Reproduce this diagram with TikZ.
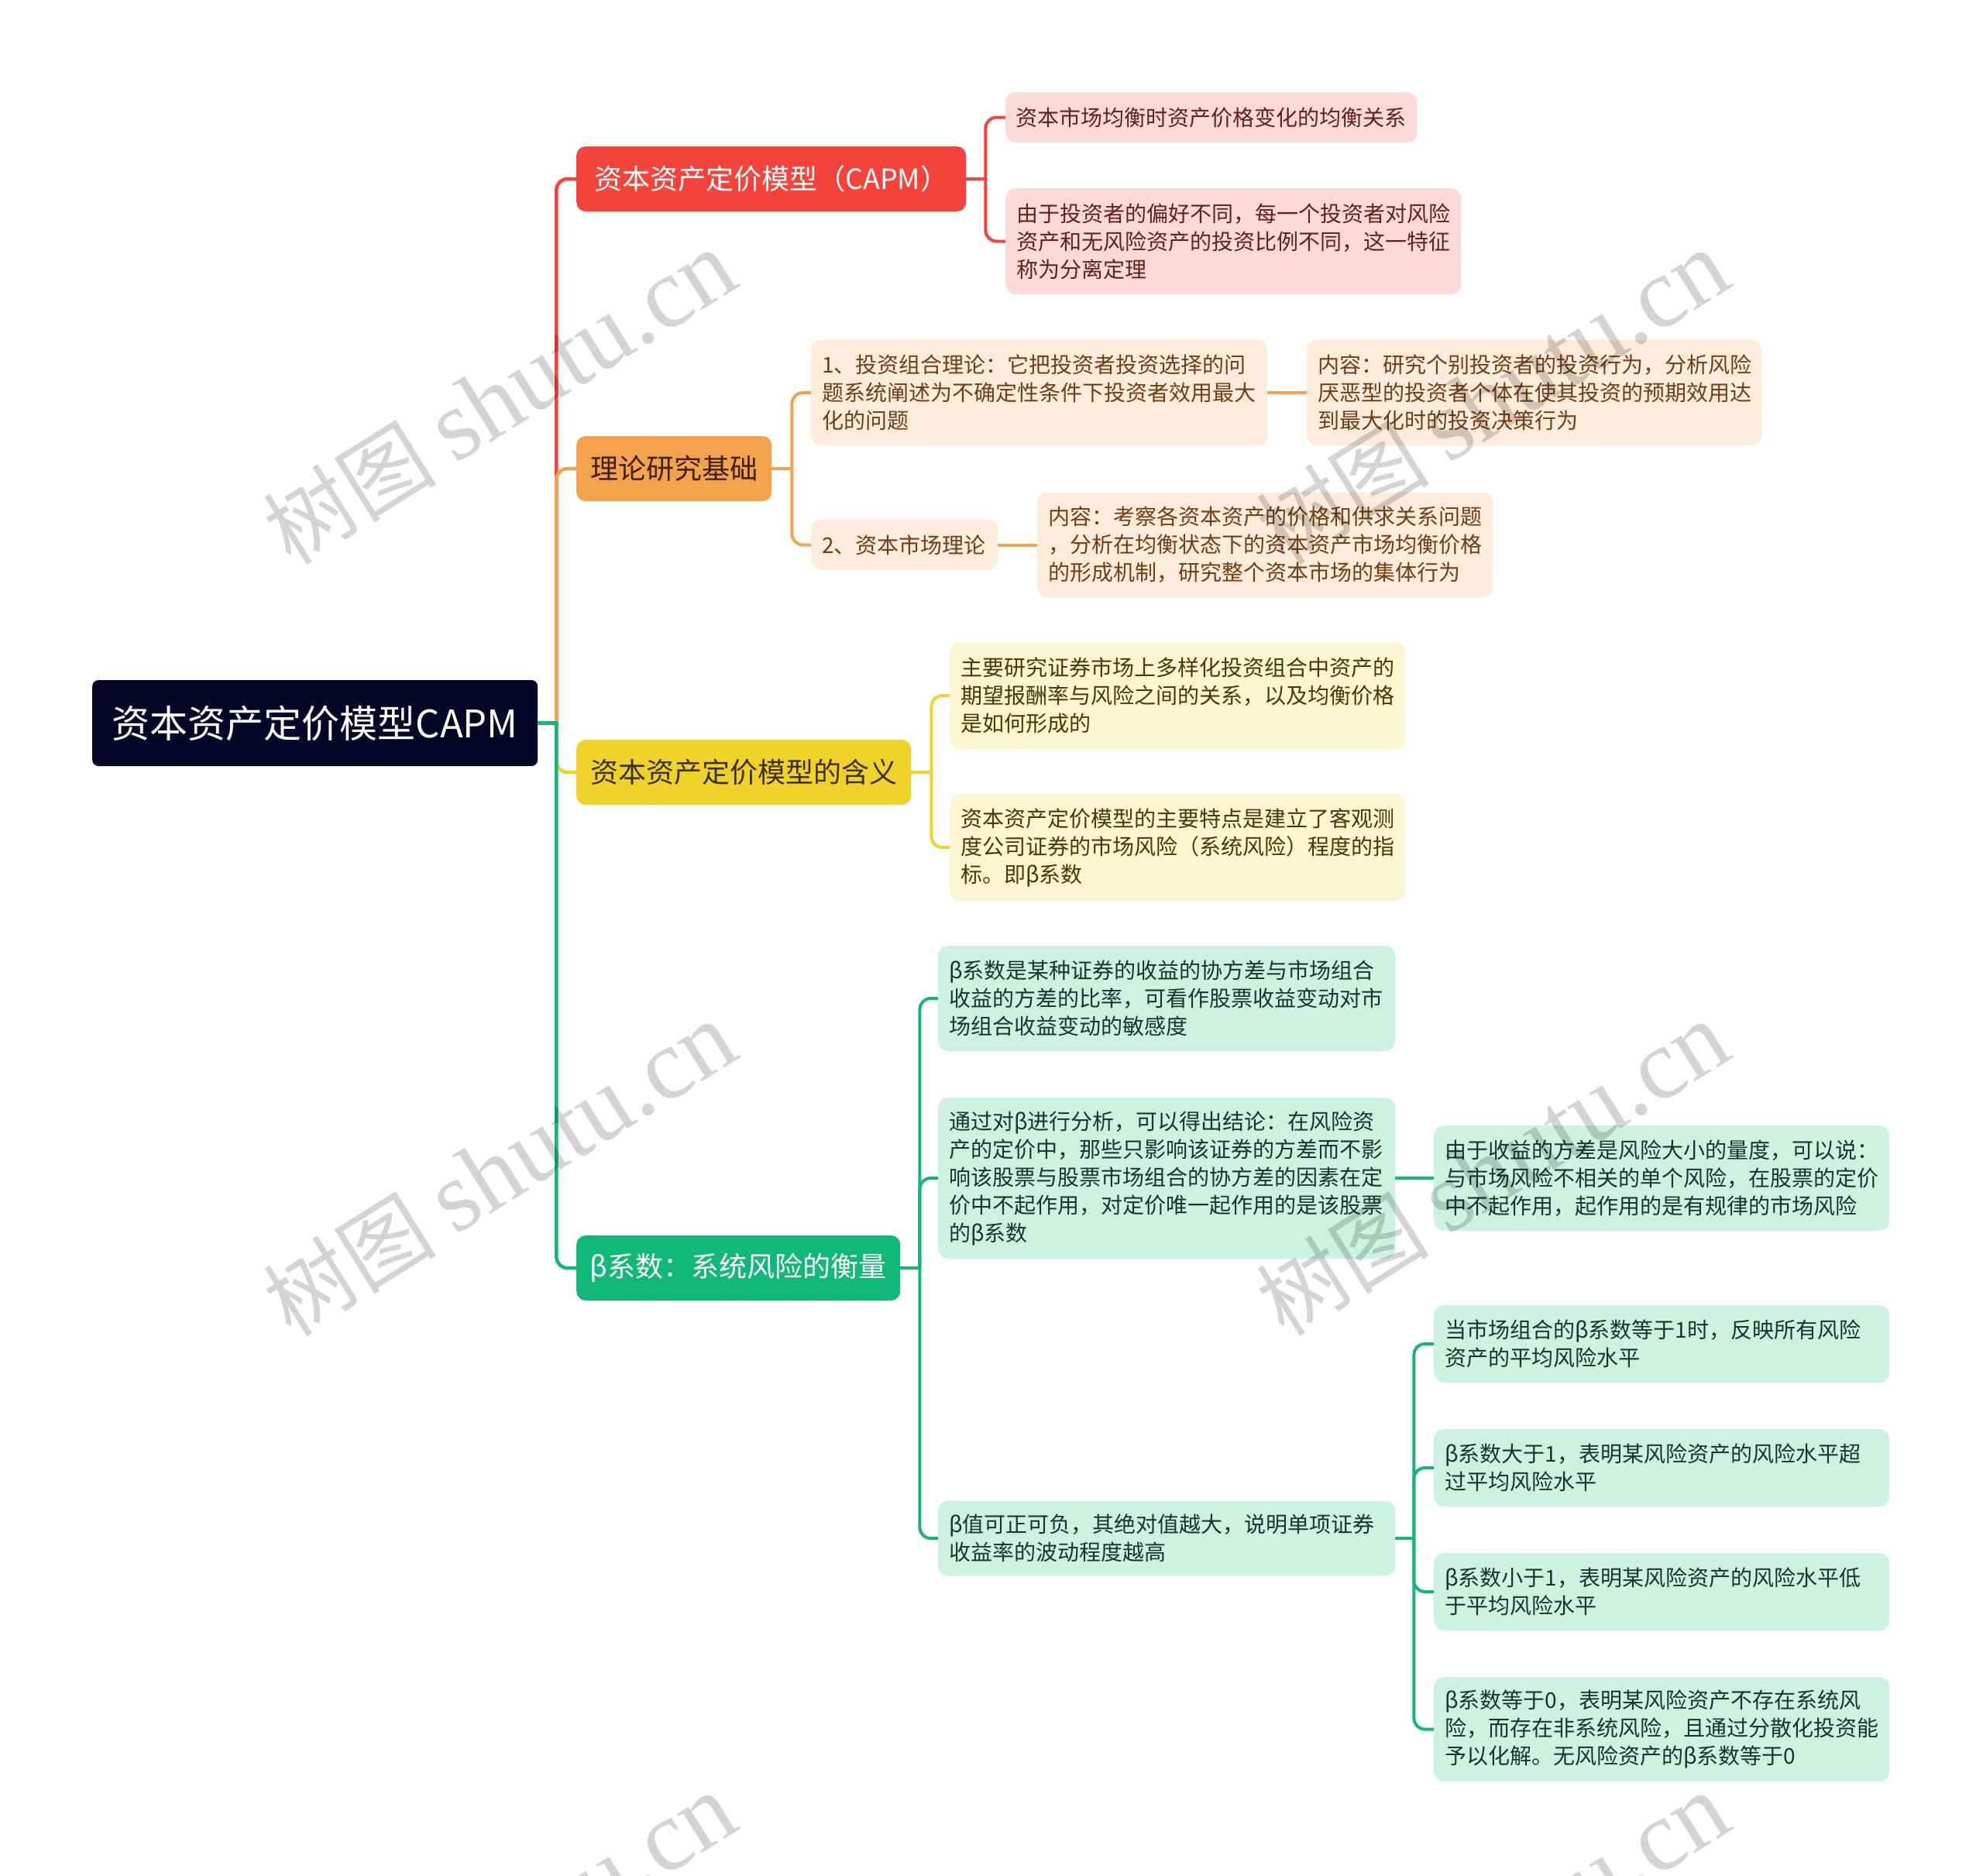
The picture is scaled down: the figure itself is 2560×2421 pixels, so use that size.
\documentclass[tikz,border=0pt]{standalone}
\usepackage{fontspec}
\setmainfont{Noto Sans CJK SC}
\newfontfamily\wmserif{Liberation Serif}
\definecolor{cR}{HTML}{F4433A}
\definecolor{cO}{HTML}{F4A24C}
\definecolor{cY}{HTML}{F0D22A}
\definecolor{cG}{HTML}{12B87A}
\definecolor{cRoot}{HTML}{060628}
\definecolor{lR}{HTML}{FCDAD8}
\definecolor{lO}{HTML}{FDEBDC}
\definecolor{lY}{HTML}{FCF5D2}
\definecolor{lG}{HTML}{CEF2E2}
\definecolor{tR}{HTML}{642016}
\definecolor{tO}{HTML}{703E12}
\definecolor{tY}{HTML}{433C00}
\definecolor{tG}{HTML}{14362B}
\definecolor{tOB}{HTML}{3C200A}
\definecolor{tYB}{HTML}{3A3000}
\begin{document}
\begin{tikzpicture}[x=1pt,y=-1pt,
  leaf/.style={rounded corners=13pt, inner xsep=14pt, inner ysep=0pt, align=left,
    font=\fontsize{28pt}{36pt}\selectfont, anchor=west},
  leafR/.style={leaf, fill=lR, text=tR},
  leafO/.style={leaf, fill=lO, text=tO},
  leafY/.style={leaf, fill=lY, text=tY},
  leafG/.style={leaf, fill=lG, text=tG},
  branch/.style={rounded corners=12pt, inner sep=0pt, anchor=west,
    font=\fontsize{36pt}{44pt}\selectfont, minimum height=84pt},
  conn/.style={line width=4.5pt, rounded corners=14pt},
  wm/.style={rotate=32, text=black, opacity=0.17, inner sep=0pt}
]
\useasboundingbox (0,0) rectangle (2560,2421);
\fill[white] (0,0) rectangle (2560,2421);

% root
\node[fill=cRoot, text=white, rounded corners=8pt, inner sep=0pt, anchor=west,
  minimum width=575pt, minimum height=111pt, font=\fontsize{49pt}{56pt}\selectfont]
  (root) at (119,933.5) {资本资产定价模型CAPM};

% branches
\node[branch, fill=cR, text=white, minimum width=503pt] (cap) at (744,231) {资本资产定价模型（CAPM）};
\node[branch, fill=cO, text=tOB, minimum width=252pt] (theo) at (744,605) {理论研究基础};
\node[branch, fill=cY, text=tYB, minimum width=432pt] (mean) at (744,997) {资本资产定价模型的含义};
\node[branch, fill=cG, text=white, minimum width=418pt] (beta) at (744,1637) {β系数：系统风险的衡量};

% red leaves
\node[leafR, text width=505pt, inner xsep=13pt, minimum height=65pt] (r1) at (1298,151.5) {资本市场均衡时资产价格变化的均衡关系};
\node[leafR, text width=560pt, minimum height=137pt] (r2) at (1298,311.5) {由于投资者的偏好不同，每一个投资者对风险\\资产和无风险资产的投资比例不同，这一特征\\称为分离定理};

% orange leaves
\node[leafO, text width=561pt, minimum height=136pt] (o1) at (1047,507) {1、投资组合理论：它把投资者投资选择的问\\题系统阐述为不确定性条件下投资者效用最大\\化的问题};
\node[leafO, text width=559pt, minimum height=136pt] (o1c) at (1687,507) {内容：研究个别投资者的投资行为，分析风险\\厌恶型的投资者个体在使其投资的预期效用达\\到最大化时的投资决策行为};
\node[leafO, text width=213pt, minimum height=65pt] (o2) at (1047,703.5) {2、资本市场理论};
\node[leafO, text width=560pt, minimum height=136pt] (o2c) at (1339,703.5) {内容：考察各资本资产的价格和供求关系问题\\，分析在均衡状态下的资本资产市场均衡价格\\的形成机制，研究整个资本市场的集体行为};

% yellow leaves
\node[leafY, text width=560pt, minimum height=138pt] (y1) at (1226,898) {主要研究证券市场上多样化投资组合中资产的\\期望报酬率与风险之间的关系，以及均衡价格\\是如何形成的};
\node[leafY, text width=560pt, minimum height=138pt] (y2) at (1226,1094) {资本资产定价模型的主要特点是建立了客观测\\度公司证券的市场风险（系统风险）程度的指\\标。即β系数};

% green leaves
\node[leafG, text width=562pt, minimum height=136pt] (g1) at (1211,1289) {β系数是某种证券的收益的协方差与市场组合\\收益的方差的比率，可看作股票收益变动对市\\场组合收益变动的敏感度};
\node[leafG, text width=562pt, minimum height=208pt] (g2) at (1211,1521) {通过对β进行分析，可以得出结论：在风险资\\产的定价中，那些只影响该证券的方差而不影\\响该股票与股票市场组合的协方差的因素在定\\价中不起作用，对定价唯一起作用的是该股票\\的β系数};
\node[leafG, text width=560pt, minimum height=136pt] (g2c) at (1851,1521) {由于收益的方差是风险大小的量度，可以说：\\与市场风险不相关的单个风险，在股票的定价\\中不起作用，起作用的是有规律的市场风险};
\node[leafG, text width=562pt, minimum height=97pt] (g3) at (1211,1986) {β值可正可负，其绝对值越大，说明单项证券\\收益率的波动程度越高};
\node[leafG, text width=560pt, minimum height=100pt] (g3a) at (1851,1735) {当市场组合的β系数等于1时，反映所有风险\\资产的平均风险水平};
\node[leafG, text width=560pt, minimum height=100pt] (g3b) at (1851,1895) {β系数大于1，表明某风险资产的风险水平超\\过平均风险水平};
\node[leafG, text width=560pt, minimum height=100pt] (g3c) at (1851,2055) {β系数小于1，表明某风险资产的风险水平低\\于平均风险水平};
\node[leafG, text width=560pt, minimum height=135pt] (g3d) at (1851,2232.5) {β系数等于0，表明某风险资产不存在系统风\\险，而存在非系统风险，且通过分散化投资能\\予以化解。无风险资产的β系数等于0};

% root connectors
\coordinate (rj) at ([xshift=24pt]root.east);
\draw[conn, cR] (rj) |- (cap.west);
\draw[conn, cO] (rj) |- (theo.west);
\draw[conn, cY] (rj) |- (mean.west);
\draw[conn, cG] (rj) |- (beta.west);
\draw[line width=4.5pt, cG] (root.east) -- ([xshift=2.25pt]rj);

% red
\coordinate (cj) at ([xshift=25pt]cap.east);
\draw[line width=4pt, cR] (cap.east) -- ([xshift=2pt]cj);
\draw[conn, line width=4pt, cR] (cj) |- (r1.west);
\draw[conn, line width=4pt, cR] (cj) |- (r2.west);

% orange
\coordinate (tj) at ([xshift=26pt]theo.east);
\draw[line width=4pt, cO] (theo.east) -- ([xshift=2pt]tj);
\draw[conn, line width=4pt, cO] (tj) |- (o1.west);
\draw[conn, line width=4pt, cO] (tj) |- (o2.west);
\draw[line width=4pt, cO] (o1.east) -- (o1c.west);
\draw[line width=4pt, cO] (o2.east) -- (o2c.west);

% yellow
\coordinate (mj) at ([xshift=26pt]mean.east);
\draw[line width=4pt, cY] (mean.east) -- ([xshift=2pt]mj);
\draw[conn, line width=4pt, cY] (mj) |- (y1.west);
\draw[conn, line width=4pt, cY] (mj) |- (y2.west);

% green
\coordinate (bj) at ([xshift=25pt]beta.east);
\draw[line width=4pt, cG] (beta.east) -- ([xshift=2pt]bj);
\draw[conn, line width=4pt, cG] (bj) |- (g1.west);
\draw[conn, line width=4pt, cG] (bj) |- (g2.west);
\draw[conn, line width=4pt, cG] (bj) |- (g3.west);
\draw[line width=4pt, cG] (g2.east) -- (g2c.west);
\coordinate (gj) at ([xshift=24pt]g3.east);
\draw[line width=4pt, cG] (g3.east) -- ([xshift=2pt]gj);
\draw[conn, line width=4pt, cG] (gj) |- (g3a.west);
\draw[conn, line width=4pt, cG] (gj) |- (g3b.west);
\draw[conn, line width=4pt, cG] (gj) |- (g3c.west);
\draw[conn, line width=4pt, cG] (gj) |- (g3d.west);

% watermark
\begin{scope}
\clip (0,0) rectangle (2560,2421);
\foreach \x/\y [count=\i] in {645/514, 1927/514, 645/1510, 1927/1510, 645/2506, 1927/2506}
  \node[wm] (wm\i) at (\x,\y) {\fontsize{112pt}{120pt}\selectfont 树图 {\wmserif\fontsize{130pt}{140pt}\selectfont shutu.cn}};
\end{scope}
\end{tikzpicture}
\end{document}
